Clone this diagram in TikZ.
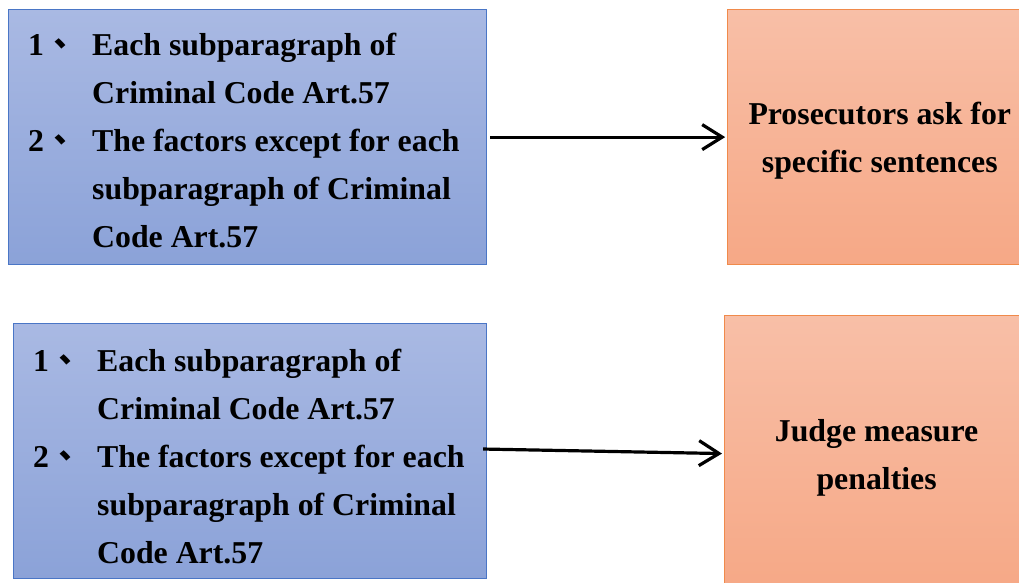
\documentclass[tikz,border=0pt]{standalone}
\usepackage{fontspec}
\setmainfont{Liberation Serif}
\newfontfamily\cjk{Noto Sans CJK TC}
\usepackage{xcolor}
\usetikzlibrary{arrows.meta,positioning}
\definecolor{softblue}{HTML}{A9B9E3}
\definecolor{deepblue}{HTML}{8BA2D8}
\definecolor{edgeblue}{HTML}{4A76C6}
\definecolor{softpeach}{HTML}{F8BFA7}
\definecolor{deeppeach}{HTML}{F6A886}
\definecolor{edgepeach}{HTML}{F08A4B}
\newcommand{\factorlist}{%
  \begin{tabular}{@{}l@{}l@{}}
    \makebox[64pt][l]{1\cjk{、}} & Each subparagraph of\\
    & Criminal Code Art.57\\
    \makebox[64pt][l]{2\cjk{、}} & The factors except for each\\
    & subparagraph of Criminal\\
    & Code Art.57
  \end{tabular}}

\begin{document}
\begin{tikzpicture}[x=1pt, y=-1pt,
  every node/.style={font=\fontsize{31.8}{48}\selectfont\bfseries},
  bluebox/.style={draw=edgeblue, line width=1.2pt, top color=softblue, bottom color=deepblue, minimum width=478pt, minimum height=255pt, anchor=north west},
  peachbox/.style={draw=edgepeach, line width=1.2pt, top color=softpeach, bottom color=deeppeach, minimum width=304pt, align=center, text height=78pt},
  listtext/.style={inner sep=0pt, anchor=north west, align=left},
  flow/.style={-{Straight Barb[length=20pt,width=25pt]}, line width=3.2pt}]
  \useasboundingbox (0,0) rectangle (1019,582);
  \clip (0,0) rectangle (1019,582);
  % upper row: prosecutors
  \node[bluebox] (crit1) at (8,9) {};
  \node[listtext] (crit1txt) at ([xshift=20pt,yshift=-13pt]crit1.north west) {\factorlist};
  \node[peachbox, minimum height=255pt, right=240pt of crit1] (ask) {Prosecutors ask for\\specific sentences};
  \draw[flow, shorten <=3pt, shorten >=2pt] (crit1) -- (ask);
  % lower row: judge
  \node[bluebox, minimum width=473pt] (crit2) at (13,323) {};
  \node[listtext] (crit2txt) at ([xshift=20pt,yshift=-15pt]crit2.north west) {\factorlist};
  \node[peachbox, minimum height=276pt, anchor=north west] (judge) at (724,315) {Judge measure\\penalties};
  \draw[flow, shorten <=-4pt, shorten >=2pt] ([yshift=2pt]crit2.east) -- (judge.west);
\end{tikzpicture}
\end{document}
